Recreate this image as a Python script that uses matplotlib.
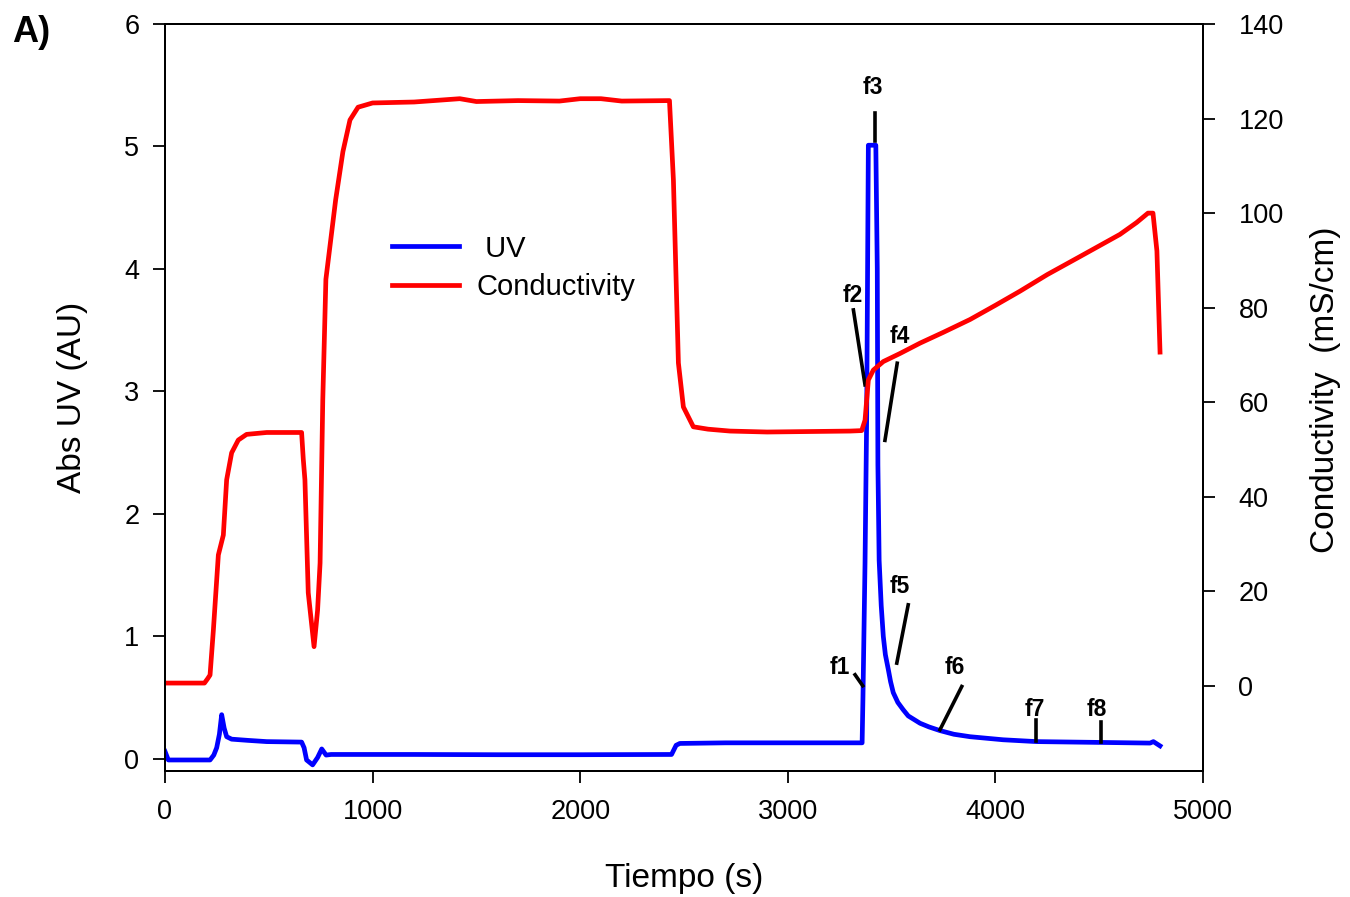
import matplotlib.pyplot as plt

plt.rcParams['font.family'] = ['Liberation Sans', 'DejaVu Sans']

# UV absorbance (left axis)
t_uv = [0, 16, 60, 217, 235, 249, 262, 273, 285, 297, 321, 400, 490, 658, 670, 682, 711, 735, 755, 776,
        800, 1200, 1600, 2000, 2440, 2462, 2480, 2700, 3000, 3358, 3362, 3372, 3380, 3388, 3424, 3431,
        3434, 3440, 3450, 3460, 3470, 3484, 3495, 3508, 3530, 3556, 3580, 3637, 3680, 3733, 3800, 3878,
        4037, 4199, 4520, 4745, 4761, 4793]
uv = [0.06, -0.01, -0.01, -0.01, 0.03, 0.09, 0.2, 0.36, 0.25, 0.18, 0.16, 0.15, 0.14, 0.136, 0.09, -0.01,
      -0.05, 0.01, 0.08, 0.03, 0.035, 0.035, 0.033, 0.033, 0.035, 0.11, 0.125, 0.13, 0.13, 0.13, 0.5, 1.6,
      2.8, 5.01, 5.01, 4.0, 2.4, 1.62, 1.25, 1.0, 0.85, 0.73, 0.63, 0.54, 0.46, 0.40, 0.35, 0.29, 0.26,
      0.23, 0.20, 0.18, 0.155, 0.14, 0.133, 0.128, 0.14, 0.105]

# conductivity (right axis)
t_cond = [0, 190, 205, 217, 233, 257, 281, 297, 321, 353, 393, 490, 658, 666, 674, 690, 718, 735, 747, 760,
          775, 822, 857, 891, 930, 1000, 1200, 1420, 1500, 1700, 1900, 2000, 2100, 2200, 2430, 2449, 2462,
          2473, 2497, 2545, 2616, 2722, 2900, 3100, 3300, 3356, 3372, 3388, 3412, 3460, 3540, 3637, 3750,
          3878, 4000, 4119, 4250, 4407, 4600, 4680, 4735, 4759, 4778, 4793]
cond = [0.6, 0.6, 1.5, 2.3, 11.8, 27.7, 31.9, 43.6, 49.3, 52.0, 53.2, 53.6, 53.6, 48.0, 43.6, 19.7, 8.3,
        16.0, 26.0, 60.5, 86.0, 102.8, 113.0, 119.7, 122.4, 123.3, 123.5, 124.2, 123.6, 123.8, 123.7, 124.2,
        124.2, 123.7, 123.8, 107.0, 85.9, 68.3, 59.0, 54.8, 54.3, 53.9, 53.7, 53.8, 53.9, 54.0, 56.2, 64.7,
        66.8, 68.6, 70.3, 72.5, 74.8, 77.5, 80.5, 83.5, 87.0, 90.8, 95.5, 98.0, 100.0, 100.0, 92.0, 70.6]

# fraction labels: name, label pos, line start, line end (time, AU)
fracs = [
    ('f1', (3251, 0.743), (3324, 0.686), (3361, 0.596)),
    ('f2', (3314, 3.78), (3316, 3.665), (3372, 3.053)),
    ('f3', (3410, 5.478), (3420, 5.276), (3420, 5.047)),
    ('f4', (3540, 3.445), (3527, 3.230), (3468, 2.60)),
    ('f5', (3540, 1.407), (3580, 1.257), (3525, 0.781)),
    ('f6', (3805, 0.743), (3838, 0.590), (3733, 0.237)),
    ('f7', (4191, 0.40), (4194, 0.318), (4194, 0.141)),
    ('f8', (4488, 0.40), (4507, 0.304), (4507, 0.133)),
]

fig = plt.figure(figsize=(13.5, 8.97), dpi=100)
ax = fig.add_axes([165 / 1350, 126 / 897, 1038 / 1350, 747 / 897])
ax2 = ax.twinx()

l1, = ax.plot(t_uv, uv, color='#0000ff', lw=3.4, solid_joinstyle='round')
l2, = ax2.plot(t_cond, cond, color='#ff0000', lw=3.4, solid_joinstyle='round')

ax.set_xlim(0, 5000)
ax.set_ylim(-0.1, 6)
ax2.set_ylim(-18, 140)
ax.set_xticks([0, 1000, 2000, 3000, 4000, 5000])
ax.set_yticks([0, 1, 2, 3, 4, 5, 6])
ax2.set_yticks([0, 20, 40, 60, 80, 100, 120, 140])

for a in (ax, ax2):
    for s in a.spines.values():
        s.set_linewidth(1.4)
ax.tick_params(axis='x', direction='out', length=8.5, width=1.3, labelsize=19.5, pad=12)
ax.tick_params(axis='y', direction='out', length=8.5, width=1.3, labelsize=19.5, pad=10)
ax2.tick_params(axis='y', direction='out', length=8.5, width=1.3, labelsize=19.5, pad=17)

ax.set_xlabel('Tiempo (s)', fontsize=24)
ax.set_ylabel('Abs UV (AU)', fontsize=24)
ax2.set_ylabel('Conductivity  (mS/cm)', fontsize=24)
ax.xaxis.set_label_coords(0.5, -0.123)
ax.yaxis.set_label_coords(-0.074, 0.5)
ax2.yaxis.set_label_coords(1.103, 0.51)

for name, lab, p0, p1 in fracs:
    ax.plot([p0[0], p1[0]], [p0[1], p1[1]], color='black', lw=2.6)
    ax.text(lab[0], lab[1], name, fontsize=16.5, fontweight='bold', ha='center', va='center')

ax2.legend([l1, l2], [' UV', 'Conductivity'], loc='upper left', bbox_to_anchor=(0.2187, 0.718),
           frameon=False, fontsize=21, borderpad=0, borderaxespad=0, handlelength=2.3,
           handletextpad=0.6, labelspacing=0.36)

fig.text(12 / 1350, 1 - 32 / 897, 'A)', fontsize=26, fontweight='bold', va='center', ha='left')

plt.savefig('out.png')
